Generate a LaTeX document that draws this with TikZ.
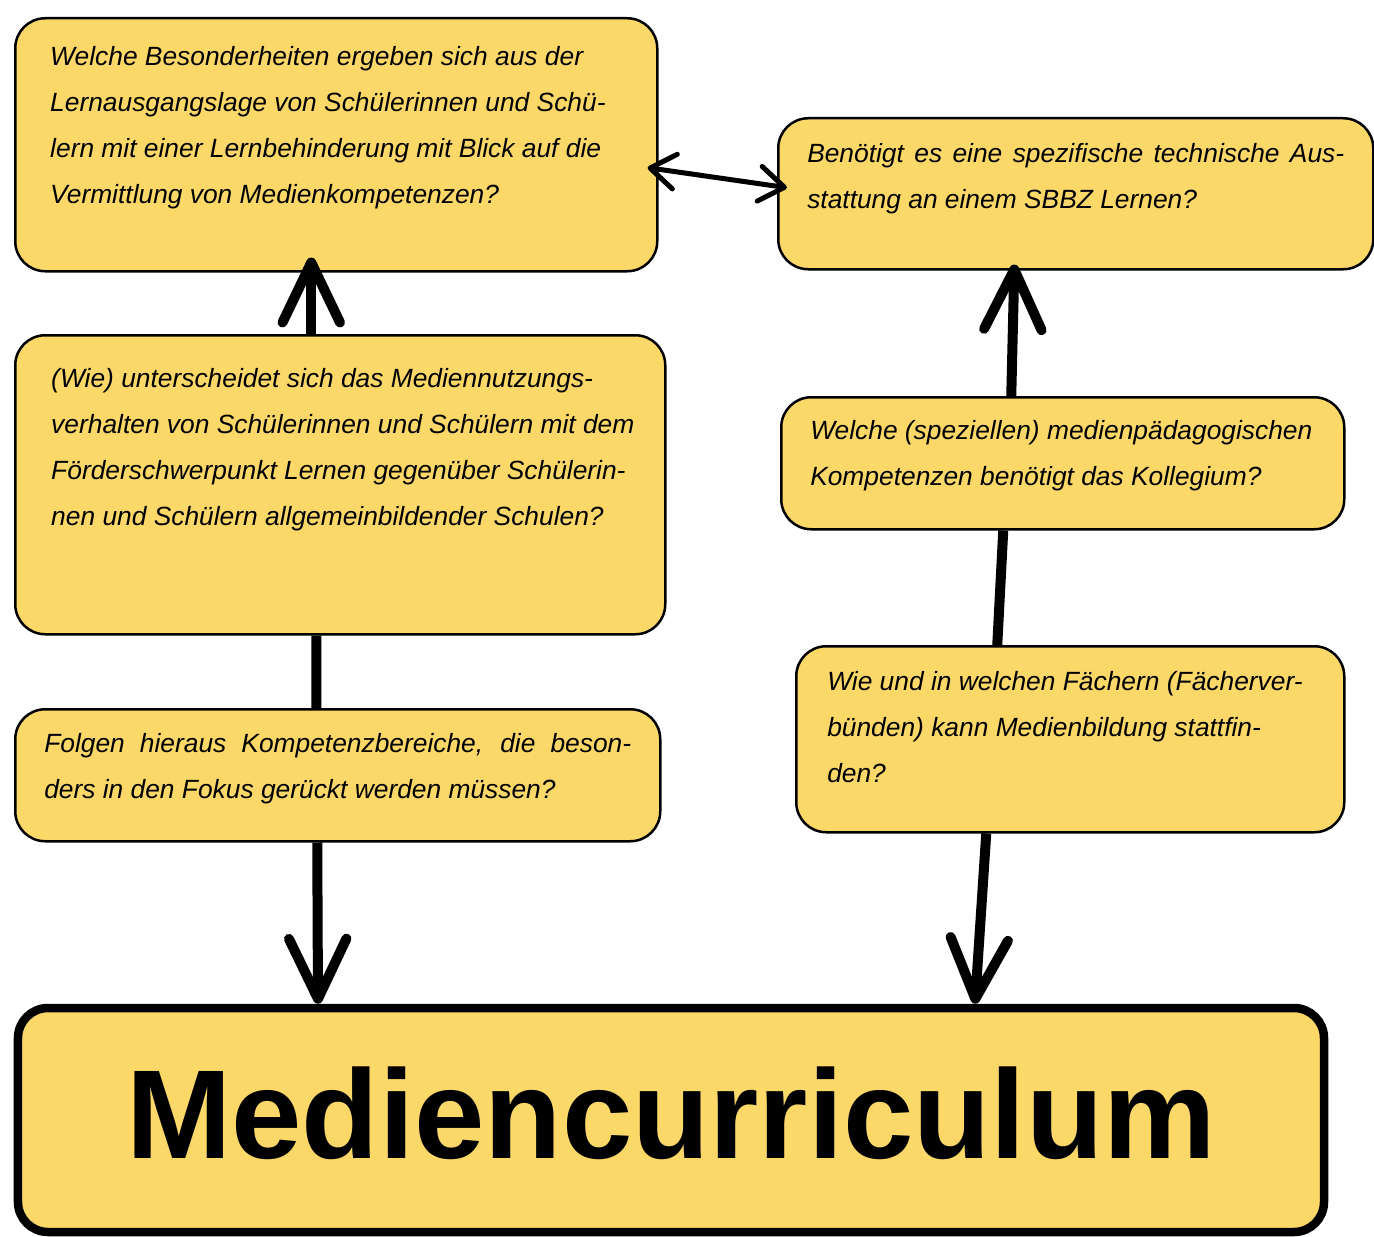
\documentclass[tikz,border=0pt]{standalone}
\usepackage{fontspec}
\setmainfont{Liberation Sans}
\usetikzlibrary{arrows.meta}
\definecolor{gelb}{HTML}{FCD869}
\newcommand{\kasten}[4]{\parbox[t][#1][t]{#2}{\raggedright\vspace*{#3}#4}}

\begin{document}
\begin{tikzpicture}

    \tikzset{
      frage/.style={
        draw,
        fill=gelb,
        line width=0.05cm,
        rounded corners=0.6cm,
        anchor=north west,
        inner ysep=0pt,
        font=\fontsize{15}{26.2}\selectfont\itshape,
      },
      titel/.style={
        draw,
        fill=gelb,
        line width=0.17cm,
        rounded corners=0.6cm,
        font=\fontsize{72}{80}\selectfont\bfseries,
      },
      linie/.style={line width=0.2cm},
      pfeil/.style={
        line width=0.2cm,
        -{Straight Barb[length=1.2cm,width=1.15cm,round]},
      },
      doppelpfeil/.style={
        line width=0.1cm,
        {Straight Barb[length=0.5cm,width=0.7cm,round]}-{Straight Barb[length=0.5cm,width=0.7cm,round]},
      },
    }
    \useasboundingbox (0,0) rectangle (27.48,-24.74);

	\node[frage, inner xsep=0.7cm] (besonderheiten) at (0.28,-0.34) {\kasten{5.06cm}{11.44cm}{0.57cm}{%
	  \mbox{Welche Besonderheiten ergeben sich aus der}\\
	  \mbox{Lernausgangslage von Schülerinnen und Schü-}\\
	  \mbox{lern mit einer Lernbehinderung mit Blick auf die}\\
	  \mbox{Vermittlung von Medienkompetenzen?}}};
	\node[frage, inner xsep=0.58cm] (ausstattung) at (15.54,-2.34) {\kasten{3.02cm}{10.74cm}{0.5cm}{%
	  \makebox[\linewidth][s]{Benötigt es eine spezifische technische Aus-}\\
	  \mbox{stattung an einem SBBZ Lernen?}}};
	\node[frage, inner xsep=0.72cm] (nutzung) at (0.28,-6.68) {\kasten{5.98cm}{11.56cm}{0.66cm}{%
	  \mbox{(Wie) unterscheidet sich das Mediennutzungs-}\\
	  \mbox{verhalten von Schülerinnen und Schülern mit dem}\\
	  \mbox{Förderschwerpunkt Lernen gegenüber Schülerin-}\\
	  \mbox{nen und Schülern allgemeinbildender Schulen?}}};
	\node[frage, inner xsep=0.58cm] (bereiche) at (0.28,-14.16) {\kasten{2.64cm}{11.74cm}{0.48cm}{%
	  \makebox[\linewidth][s]{Folgen hieraus Kompetenzbereiche, die beson-}\\
	  \mbox{ders in den Fokus gerückt werden müssen?}}};
	\node[frage, inner xsep=0.58cm] (kollegium) at (15.6,-7.92) {\kasten{2.64cm}{10.1cm}{0.46cm}{%
	  \mbox{Welche (speziellen) medienpädagogischen}\\
	  \mbox{Kompetenzen benötigt das Kollegium?}}};
	\node[frage, inner xsep=0.62cm] (faecher) at (15.9,-12.9) {\kasten{3.72cm}{9.72cm}{0.5cm}{%
	  \mbox{Wie und in welchen Fächern (Fächerver-}\\
	  \mbox{bünden) kann Medienbildung stattfin-}\\
	  \mbox{den?}}};
	\node[titel, minimum width=26.12cm, minimum height=4.48cm, text depth=0.3cm] (curriculum) at (13.42,-22.4) {Mediencurriculum};

	\draw[pfeil, shorten >=-0.3cm] ([xshift=-0.58cm]nutzung.north) -- ([xshift=-0.5cm]besonderheiten.south);
	\draw[linie] ([xshift=-0.48cm]nutzung.south) -- ([xshift=-0.43cm]bereiche.north);
	\draw[pfeil] ([xshift=-0.41cm]bereiche.south) -- ([xshift=-7.06cm]curriculum.north);
	\draw[pfeil, shorten >=-0.12cm] ([xshift=-1.03cm]kollegium.north) -- ([xshift=-1.23cm]ausstattung.south);
	\draw[linie] ([xshift=-1.19cm]kollegium.south) -- ([xshift=-1.46cm]faecher.north);
	\draw[pfeil] ([xshift=-1.68cm]faecher.south) -- ([xshift=6.08cm]curriculum.north);
	\draw[doppelpfeil, shorten <=-0.22cm, shorten >=-0.2cm] ([yshift=-0.49cm]besonderheiten.east) -- ([yshift=0.15cm]ausstattung.west);

\end{tikzpicture}
\end{document}
